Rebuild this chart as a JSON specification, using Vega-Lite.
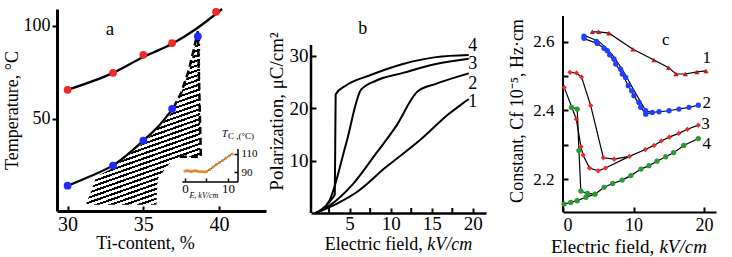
{
"$schema": "https://vega.github.io/schema/vega-lite/v6.json",
"background": "white",
"padding": {"left": 3, "top": 4, "right": 5, "bottom": 5},
"config": {
  "view": {"stroke": null},
  "axis": {"domainColor": "black", "tickColor": "black", "labelColor": "black", "titleColor": "black", "labelFont": "Liberation Serif", "titleFont": "Liberation Serif", "titleFontWeight": "normal", "grid": false, "labelOverlap": false},
  "text": {"font": "Liberation Serif", "color": "black"}
},
"datasets": {
  "a_hatch": [
    {"x": 31.25, "y": 4.6, "y2": 3.9},
    {"x": 31.9, "y": 19.0, "y2": 3.9},
    {"x": 32.96, "y": 23.5, "y2": 3.9},
    {"x": 35.0, "y": 37.0, "y2": 3.9},
    {"x": 35.86, "y": 44.0, "y2": 3.9},
    {"x": 35.95, "y": 44.8, "y2": 17.8},
    {"x": 36.71, "y": 51.5, "y2": 25.9},
    {"x": 37.37, "y": 61.0, "y2": 29.6},
    {"x": 38.03, "y": 76.0, "y2": 29.6},
    {"x": 38.55, "y": 94.0, "y2": 29.6},
    {"x": 38.75, "y": 95.7, "y2": 29.6}
  ],
  "a_red_curve": [
    {"x": 30, "y": 65.6}, {"x": 33, "y": 74.7}, {"x": 35, "y": 83.2}, {"x": 36.9, "y": 90.3}, {"x": 38.5, "y": 98.4}, {"x": 40.2, "y": 109}
  ],
  "a_blue_curve": [
    {"x": 30, "y": 14.1}, {"x": 31.5, "y": 19.2}, {"x": 33, "y": 25}, {"x": 35, "y": 38.3}, {"x": 36, "y": 46}, {"x": 37.0, "y": 56}
  ],
  "a_dash": [
    {"x": 37.0, "y": 56, "o": 1}, {"x": 37.5, "y": 64, "o": 2}, {"x": 38.0, "y": 76, "o": 3}, {"x": 38.35, "y": 88, "o": 4}, {"x": 38.6, "y": 97, "o": 5}, {"x": 38.8, "y": 29.6, "o": 6}, {"x": 37.4, "y": 29.6, "o": 7}
  ],
  "a_red_pts": [
    {"x": 30, "y": 65.6}, {"x": 33, "y": 74.7}, {"x": 35, "y": 84.4}, {"x": 36.9, "y": 90.7}, {"x": 39.8, "y": 107.5}
  ],
  "a_blue_pts": [
    {"x": 30, "y": 14.1}, {"x": 33, "y": 24.9}, {"x": 35, "y": 38.3}, {"x": 36.9, "y": 55.4}, {"x": 38.6, "y": 94.3}
  ],
  "a_label": [{"x": 32.8, "y": 98.5, "t": "a"}],
  "ins_pts": [
    {"x": 0, "y": 91}, {"x": 0.5, "y": 91.5}, {"x": 1, "y": 91}, {"x": 1.5, "y": 90.5}, {"x": 2, "y": 91.2}, {"x": 2.5, "y": 91.5}, {"x": 3, "y": 90.8}, {"x": 3.5, "y": 90.3}, {"x": 4, "y": 90.6}, {"x": 4.5, "y": 90}, {"x": 5, "y": 90.5}, {"x": 5.8, "y": 93}, {"x": 6.5, "y": 95.5}, {"x": 7.3, "y": 98.5}, {"x": 8, "y": 100.5}, {"x": 8.8, "y": 103}, {"x": 9.5, "y": 105.5}, {"x": 10.3, "y": 108}, {"x": 11, "y": 110}
  ],
  "ins_line": [{"x": 0, "y": 91}, {"x": 5, "y": 90.3}, {"x": 11, "y": 110.5}],
  "ins_frame": [{"x": -0.6, "x2": 12.33, "y": 78.9, "y2": 78.9}, {"x": 12.33, "x2": 12.33, "y": 78.9, "y2": 115.6}],
  "ins_t1": [{"x": 8.6, "y": 132, "t": "T"}],
  "ins_t2": [{"x": 10.0, "y": 130.5, "t": "C ,(°C)"}],
  "ins_t3": [{"x": 4.4, "y": 63.3, "t": "E, kV/cm"}],
  "b_axis": [{"x": 0.3, "y": 0, "y2": 32}],
  "b_ticks": [{"x": 2.5, "y": 0, "y2": 0.95}, {"x": 7.5, "y": 0, "y2": 0.95}, {"x": 12.5, "y": 0, "y2": 0.95}, {"x": 17.5, "y": 0, "y2": 0.95}],
  "b_curves": [
    {"x": 0.9, "y": 0, "c": "4"}, {"x": 2.0, "y": 1.2, "c": "4"}, {"x": 2.9, "y": 2.8, "c": "4"}, {"x": 3.2, "y": 3.6, "c": "4"}, {"x": 3.3, "y": 22.6, "c": "4"}, {"x": 4.56, "y": 24.3, "c": "4"}, {"x": 7.4, "y": 26.2, "c": "4"}, {"x": 11.5, "y": 28.4, "c": "4"}, {"x": 15.5, "y": 29.7, "c": "4"}, {"x": 19.5, "y": 30.1, "c": "4"},
    {"x": 0.9, "y": 0, "c": "3"}, {"x": 2.55, "y": 2.4, "c": "3"}, {"x": 4.57, "y": 13.2, "c": "3"}, {"x": 6.4, "y": 23.5, "c": "3"}, {"x": 8.2, "y": 25.2, "c": "3"}, {"x": 11.5, "y": 26.7, "c": "3"}, {"x": 15.5, "y": 28.4, "c": "3"}, {"x": 19.5, "y": 29.4, "c": "3"},
    {"x": 0.9, "y": 0, "c": "2"}, {"x": 2.55, "y": 1.4, "c": "2"}, {"x": 5.4, "y": 5.5, "c": "2"}, {"x": 8.2, "y": 11.3, "c": "2"}, {"x": 10.6, "y": 16.4, "c": "2"}, {"x": 13.3, "y": 23.2, "c": "2"}, {"x": 15.5, "y": 24.6, "c": "2"}, {"x": 19.5, "y": 26.6, "c": "2"},
    {"x": 0.9, "y": 0, "c": "1"}, {"x": 3.35, "y": 1.7, "c": "1"}, {"x": 5.8, "y": 3.9, "c": "1"}, {"x": 9.4, "y": 8.7, "c": "1"}, {"x": 13.5, "y": 13.8, "c": "1"}, {"x": 17.1, "y": 18.9, "c": "1"}, {"x": 18.7, "y": 20.8, "c": "1"}, {"x": 19.5, "y": 21.7, "c": "1"}
  ],
  "b_labels": [{"x": 20.0, "y": 31.9, "t": "4"}, {"x": 20.0, "y": 28.4, "t": "3"}, {"x": 20.0, "y": 24.6, "t": "2"}, {"x": 20.0, "y": 21.1, "t": "1"}, {"x": 6.6, "y": 35.1, "t": "b"}],
  "b_xt1": [{"x": 13.9, "y": -7.05, "t": "Electric field,"}],
  "b_xt2": [{"x": 14.45, "y": -7.05, "t": "kV/cm"}],
  "c_axis": [{"x": 0, "y": 2.104, "y2": 2.675}],
  "c_xt1": [{"x": 12.96, "y": 1.9847, "t": "Electric field,"}],
  "c_xt2": [{"x": 13.67, "y": 1.9847, "t": "kV/cm"}],
  "c_pts": [
    {"x": 4.16, "y": 2.629, "s": "1"}, {"x": 5.06, "y": 2.629, "s": "1"}, {"x": 6.52, "y": 2.625, "s": "1"}, {"x": 9.93, "y": 2.578, "s": "1"}, {"x": 12.91, "y": 2.547, "s": "1"}, {"x": 14.99, "y": 2.524, "s": "1"}, {"x": 16.03, "y": 2.506, "s": "1"}, {"x": 17.35, "y": 2.506, "s": "1"}, {"x": 18.98, "y": 2.512, "s": "1"}, {"x": 20.28, "y": 2.515, "s": "1"},
    {"x": 2.98, "y": 2.616, "s": "2"}, {"x": 2.98, "y": 2.61, "s": "2"}, {"x": 4.72, "y": 2.601, "s": "2"}, {"x": 4.87, "y": 2.595, "s": "2"}, {"x": 5.82, "y": 2.581, "s": "2"}, {"x": 6.28, "y": 2.574, "s": "2"}, {"x": 6.62, "y": 2.562, "s": "2"}, {"x": 7.23, "y": 2.55, "s": "2"}, {"x": 7.48, "y": 2.535, "s": "2"}, {"x": 8.18, "y": 2.52, "s": "2"}, {"x": 8.41, "y": 2.506, "s": "2"}, {"x": 8.89, "y": 2.496, "s": "2"}, {"x": 9.26, "y": 2.472, "s": "2"}, {"x": 9.74, "y": 2.457, "s": "2"}, {"x": 10.07, "y": 2.443, "s": "2"}, {"x": 10.78, "y": 2.423, "s": "2"}, {"x": 11.02, "y": 2.409, "s": "2"}, {"x": 11.73, "y": 2.399, "s": "2"}, {"x": 11.73, "y": 2.389, "s": "2"}, {"x": 12.67, "y": 2.394, "s": "2"}, {"x": 13.62, "y": 2.396, "s": "2"}, {"x": 15.04, "y": 2.399, "s": "2"}, {"x": 16.45, "y": 2.404, "s": "2"}, {"x": 17.87, "y": 2.409, "s": "2"}, {"x": 19.19, "y": 2.415, "s": "2"},
    {"x": 0.99, "y": 2.511, "s": "3"}, {"x": 1.91, "y": 2.509, "s": "3"}, {"x": 2.63, "y": 2.497, "s": "3"}, {"x": 3.93, "y": 2.414, "s": "3"}, {"x": 5.72, "y": 2.262, "s": "3"}, {"x": 7.26, "y": 2.258, "s": "3"}, {"x": 9.42, "y": 2.266, "s": "3"}, {"x": 11.68, "y": 2.286, "s": "3"}, {"x": 12.91, "y": 2.298, "s": "3"}, {"x": 13.94, "y": 2.311, "s": "3"}, {"x": 15.07, "y": 2.322, "s": "3"}, {"x": 16.41, "y": 2.333, "s": "3"}, {"x": 17.64, "y": 2.345, "s": "3"}, {"x": 19.19, "y": 2.357, "s": "3"},
    {"x": 0.17, "y": 2.467, "s": "3"}, {"x": 1.88, "y": 2.375, "s": "3"}, {"x": 2.55, "y": 2.294, "s": "3"}, {"x": 2.84, "y": 2.27, "s": "3"}, {"x": 3.76, "y": 2.232, "s": "3"}, {"x": 5.0, "y": 2.224, "s": "3"}, {"x": 6.03, "y": 2.232, "s": "3"},
    {"x": 1.19, "y": 2.409, "s": "4"}, {"x": 2.02, "y": 2.404, "s": "4"}, {"x": 2.26, "y": 2.283, "s": "4"}, {"x": 2.53, "y": 2.165, "s": "4"}, {"x": 3.46, "y": 2.158, "s": "4"},
    {"x": 0.15, "y": 2.127, "s": "4"}, {"x": 1.09, "y": 2.132, "s": "4"}, {"x": 2.02, "y": 2.137, "s": "4"}, {"x": 3.25, "y": 2.147, "s": "4"}, {"x": 4.54, "y": 2.156, "s": "4"}, {"x": 5.82, "y": 2.176, "s": "4"}, {"x": 7.05, "y": 2.187, "s": "4"}, {"x": 8.39, "y": 2.197, "s": "4"}, {"x": 9.62, "y": 2.21, "s": "4"}, {"x": 11.06, "y": 2.229, "s": "4"}, {"x": 12.19, "y": 2.239, "s": "4"}, {"x": 13.33, "y": 2.252, "s": "4"}, {"x": 14.56, "y": 2.265, "s": "4"}, {"x": 15.69, "y": 2.277, "s": "4"}, {"x": 17.13, "y": 2.298, "s": "4"}, {"x": 19.19, "y": 2.318, "s": "4"}
  ],
  "c_lines": [
    {"x": 4.16, "y": 2.629, "l": "1"}, {"x": 5.06, "y": 2.629, "l": "1"}, {"x": 6.52, "y": 2.625, "l": "1"}, {"x": 9.93, "y": 2.578, "l": "1"}, {"x": 12.91, "y": 2.547, "l": "1"}, {"x": 14.99, "y": 2.524, "l": "1"}, {"x": 16.03, "y": 2.506, "l": "1"}, {"x": 17.35, "y": 2.506, "l": "1"}, {"x": 18.98, "y": 2.512, "l": "1"}, {"x": 20.28, "y": 2.515, "l": "1"},
    {"x": 3.0, "y": 2.619, "l": "2a"}, {"x": 5.1, "y": 2.601, "l": "2a"}, {"x": 6.3, "y": 2.578, "l": "2a"}, {"x": 7.0, "y": 2.562, "l": "2a"}, {"x": 7.9, "y": 2.535, "l": "2a"}, {"x": 8.8, "y": 2.506, "l": "2a"}, {"x": 9.7, "y": 2.472, "l": "2a"}, {"x": 10.5, "y": 2.443, "l": "2a"}, {"x": 11.45, "y": 2.409, "l": "2a"}, {"x": 12.0, "y": 2.397, "l": "2a"}, {"x": 12.7, "y": 2.394, "l": "2a"},
    {"x": 2.98, "y": 2.609, "l": "2b"}, {"x": 4.87, "y": 2.595, "l": "2b"}, {"x": 5.82, "y": 2.581, "l": "2b"}, {"x": 6.62, "y": 2.562, "l": "2b"}, {"x": 7.48, "y": 2.535, "l": "2b"}, {"x": 8.41, "y": 2.506, "l": "2b"}, {"x": 9.26, "y": 2.472, "l": "2b"}, {"x": 10.07, "y": 2.443, "l": "2b"}, {"x": 11.02, "y": 2.409, "l": "2b"}, {"x": 11.73, "y": 2.389, "l": "2b"}, {"x": 12.67, "y": 2.394, "l": "2b"}, {"x": 13.62, "y": 2.396, "l": "2b"}, {"x": 15.04, "y": 2.399, "l": "2b"}, {"x": 16.45, "y": 2.404, "l": "2b"}, {"x": 17.87, "y": 2.409, "l": "2b"}, {"x": 19.19, "y": 2.415, "l": "2b"},
    {"x": 0.99, "y": 2.511, "l": "3B"}, {"x": 1.91, "y": 2.509, "l": "3B"}, {"x": 2.63, "y": 2.497, "l": "3B"}, {"x": 3.93, "y": 2.414, "l": "3B"}, {"x": 5.72, "y": 2.262, "l": "3B"}, {"x": 7.26, "y": 2.258, "l": "3B"}, {"x": 9.42, "y": 2.266, "l": "3B"}, {"x": 11.68, "y": 2.286, "l": "3B"}, {"x": 12.91, "y": 2.298, "l": "3B"}, {"x": 13.94, "y": 2.311, "l": "3B"}, {"x": 15.07, "y": 2.322, "l": "3B"}, {"x": 16.41, "y": 2.333, "l": "3B"}, {"x": 17.64, "y": 2.345, "l": "3B"}, {"x": 19.19, "y": 2.357, "l": "3B"},
    {"x": 0.17, "y": 2.467, "l": "3A"}, {"x": 1.88, "y": 2.375, "l": "3A"}, {"x": 2.55, "y": 2.294, "l": "3A"}, {"x": 2.84, "y": 2.27, "l": "3A"}, {"x": 3.76, "y": 2.232, "l": "3A"}, {"x": 5.0, "y": 2.224, "l": "3A"}, {"x": 6.03, "y": 2.232, "l": "3A"}, {"x": 9.42, "y": 2.266, "l": "3A"},
    {"x": 1.19, "y": 2.409, "l": "4U"}, {"x": 2.02, "y": 2.404, "l": "4U"}, {"x": 2.26, "y": 2.283, "l": "4U"}, {"x": 2.53, "y": 2.165, "l": "4U"}, {"x": 3.46, "y": 2.158, "l": "4U"}, {"x": 4.54, "y": 2.156, "l": "4U"},
    {"x": 0.15, "y": 2.127, "l": "4L"}, {"x": 1.09, "y": 2.132, "l": "4L"}, {"x": 2.02, "y": 2.137, "l": "4L"}, {"x": 3.25, "y": 2.147, "l": "4L"}, {"x": 4.54, "y": 2.156, "l": "4L"}, {"x": 5.82, "y": 2.176, "l": "4L"}, {"x": 7.05, "y": 2.187, "l": "4L"}, {"x": 8.39, "y": 2.197, "l": "4L"}, {"x": 9.62, "y": 2.21, "l": "4L"}, {"x": 11.06, "y": 2.229, "l": "4L"}, {"x": 12.19, "y": 2.239, "l": "4L"}, {"x": 13.33, "y": 2.252, "l": "4L"}, {"x": 14.56, "y": 2.265, "l": "4L"}, {"x": 15.69, "y": 2.277, "l": "4L"}, {"x": 17.13, "y": 2.298, "l": "4L"}, {"x": 19.19, "y": 2.318, "l": "4L"}
  ],
  "c_labels": [{"x": 20.4, "y": 2.553, "t": "1"}, {"x": 20.4, "y": 2.422, "t": "2"}, {"x": 20.2, "y": 2.36, "t": "3"}, {"x": 20.4, "y": 2.302, "t": "4"}, {"x": 14.57, "y": 2.606, "t": "c"}]
},
"spacing": 1,
"hconcat": [
  {
    "width": 209, "height": 202,
    "layer": [
      {"layer": [
        {"data": {"name": "a_hatch"},
         "mark": {"type": "area", "color": {"gradient": "linear", "x1": 0, "y1": 0, "x2": 0.256, "y2": 1.1, "stops": [
{"offset":0.175,"color":"#000"},{"offset":0.186,"color":"#000"},{"offset":0.186,"color":"#fff"},{"offset":0.2,"color":"#fff"},
{"offset":0.2,"color":"#000"},{"offset":0.211,"color":"#000"},{"offset":0.211,"color":"#fff"},{"offset":0.225,"color":"#fff"},
{"offset":0.225,"color":"#000"},{"offset":0.236,"color":"#000"},{"offset":0.236,"color":"#fff"},{"offset":0.25,"color":"#fff"},
{"offset":0.25,"color":"#000"},{"offset":0.261,"color":"#000"},{"offset":0.261,"color":"#fff"},{"offset":0.275,"color":"#fff"},
{"offset":0.275,"color":"#000"},{"offset":0.286,"color":"#000"},{"offset":0.286,"color":"#fff"},{"offset":0.3,"color":"#fff"},
{"offset":0.3,"color":"#000"},{"offset":0.311,"color":"#000"},{"offset":0.311,"color":"#fff"},{"offset":0.325,"color":"#fff"},
{"offset":0.325,"color":"#000"},{"offset":0.336,"color":"#000"},{"offset":0.336,"color":"#fff"},{"offset":0.35,"color":"#fff"},
{"offset":0.35,"color":"#000"},{"offset":0.361,"color":"#000"},{"offset":0.361,"color":"#fff"},{"offset":0.375,"color":"#fff"},
{"offset":0.375,"color":"#000"},{"offset":0.386,"color":"#000"},{"offset":0.386,"color":"#fff"},{"offset":0.4,"color":"#fff"},
{"offset":0.4,"color":"#000"},{"offset":0.411,"color":"#000"},{"offset":0.411,"color":"#fff"},{"offset":0.425,"color":"#fff"},
{"offset":0.425,"color":"#000"},{"offset":0.436,"color":"#000"},{"offset":0.436,"color":"#fff"},{"offset":0.45,"color":"#fff"},
{"offset":0.45,"color":"#000"},{"offset":0.461,"color":"#000"},{"offset":0.461,"color":"#fff"},{"offset":0.475,"color":"#fff"},
{"offset":0.475,"color":"#000"},{"offset":0.486,"color":"#000"},{"offset":0.486,"color":"#fff"},{"offset":0.5,"color":"#fff"},
{"offset":0.5,"color":"#000"},{"offset":0.511,"color":"#000"},{"offset":0.511,"color":"#fff"},{"offset":0.525,"color":"#fff"},
{"offset":0.525,"color":"#000"},{"offset":0.536,"color":"#000"},{"offset":0.536,"color":"#fff"},{"offset":0.55,"color":"#fff"},
{"offset":0.55,"color":"#000"},{"offset":0.561,"color":"#000"},{"offset":0.561,"color":"#fff"},{"offset":0.575,"color":"#fff"},
{"offset":0.575,"color":"#000"},{"offset":0.586,"color":"#000"},{"offset":0.586,"color":"#fff"},{"offset":0.6,"color":"#fff"},
{"offset":0.6,"color":"#000"},{"offset":0.611,"color":"#000"},{"offset":0.611,"color":"#fff"},{"offset":0.625,"color":"#fff"},
{"offset":0.625,"color":"#000"},{"offset":0.636,"color":"#000"},{"offset":0.636,"color":"#fff"},{"offset":0.65,"color":"#fff"},
{"offset":0.65,"color":"#000"},{"offset":0.661,"color":"#000"},{"offset":0.661,"color":"#fff"},{"offset":0.675,"color":"#fff"},
{"offset":0.675,"color":"#000"},{"offset":0.686,"color":"#000"},{"offset":0.686,"color":"#fff"},{"offset":0.7,"color":"#fff"},
{"offset":0.7,"color":"#000"},{"offset":0.711,"color":"#000"},{"offset":0.711,"color":"#fff"},{"offset":0.725,"color":"#fff"},
{"offset":0.725,"color":"#000"},{"offset":0.736,"color":"#000"},{"offset":0.736,"color":"#fff"},{"offset":0.75,"color":"#fff"},
{"offset":0.75,"color":"#000"},{"offset":0.761,"color":"#000"},{"offset":0.761,"color":"#fff"},{"offset":0.775,"color":"#fff"},
{"offset":0.775,"color":"#000"},{"offset":0.786,"color":"#000"},{"offset":0.786,"color":"#fff"},{"offset":0.8,"color":"#fff"},
{"offset":0.8,"color":"#000"},{"offset":0.811,"color":"#000"},{"offset":0.811,"color":"#fff"},{"offset":0.825,"color":"#fff"},
{"offset":0.825,"color":"#000"},{"offset":0.836,"color":"#000"},{"offset":0.836,"color":"#fff"},{"offset":0.85,"color":"#fff"},
{"offset":0.85,"color":"#000"},{"offset":0.861,"color":"#000"},{"offset":0.861,"color":"#fff"},{"offset":0.875,"color":"#fff"},
{"offset":0.875,"color":"#000"},{"offset":0.886,"color":"#000"},{"offset":0.886,"color":"#fff"},{"offset":0.9,"color":"#fff"},
{"offset":0.9,"color":"#000"},{"offset":0.911,"color":"#000"},{"offset":0.911,"color":"#fff"},{"offset":0.925,"color":"#fff"},
{"offset":0.925,"color":"#000"},{"offset":0.936,"color":"#000"},{"offset":0.936,"color":"#fff"},{"offset":0.95,"color":"#fff"},
{"offset":0.95,"color":"#000"},{"offset":0.961,"color":"#000"},{"offset":0.961,"color":"#fff"},{"offset":0.975,"color":"#fff"},
{"offset":0.975,"color":"#000"},{"offset":0.986,"color":"#000"},{"offset":0.986,"color":"#fff"},{"offset":1,"color":"#fff"}
         ]}},
         "encoding": {
           "x": {"field": "x", "type": "quantitative", "scale": {"domain": [29.3, 43.1], "nice": false, "zero": false},
                 "axis": {"values": [30, 35, 40], "title": "Ti-content, %", "titleFontSize": 18, "labelFontSize": 20, "tickSize": -5, "tickWidth": 2, "domainWidth": 3, "labelPadding": 8.5, "titlePadding": 0, "titleX": 88, "labelOverlap": false}},
           "y": {"field": "y", "type": "quantitative", "scale": {"domain": [0.5, 109], "nice": false, "zero": false},
                 "axis": {"values": [50, 100], "title": "Temperature, °C", "titleFontSize": 18, "labelFontSize": 18, "tickSize": 5, "tickWidth": 2, "domainWidth": 3, "labelPadding": 2, "titlePadding": 2, "labelOverlap": false}},
           "y2": {"field": "y2"}
         }},
        {"data": {"name": "a_red_curve"}, "mark": {"type": "line", "color": "black", "strokeWidth": 2.3, "interpolate": "monotone"},
         "encoding": {"x": {"field": "x", "type": "quantitative"}, "y": {"field": "y", "type": "quantitative"}}},
        {"data": {"name": "a_blue_curve"}, "mark": {"type": "line", "color": "black", "strokeWidth": 2.3, "interpolate": "monotone"},
         "encoding": {"x": {"field": "x", "type": "quantitative"}, "y": {"field": "y", "type": "quantitative"}}},
        {"data": {"name": "a_dash"}, "mark": {"type": "line", "color": "black", "strokeWidth": 2.5, "strokeDash": [7, 4]},
         "encoding": {"x": {"field": "x", "type": "quantitative"}, "y": {"field": "y", "type": "quantitative"}, "order": {"field": "o", "type": "quantitative"}}},
        {"data": {"name": "a_red_pts"}, "mark": {"type": "circle", "color": "#f02828", "opacity": 1, "size": 60},
         "encoding": {"x": {"field": "x", "type": "quantitative"}, "y": {"field": "y", "type": "quantitative"}}},
        {"data": {"name": "a_blue_pts"}, "mark": {"type": "circle", "color": "#1f2aff", "opacity": 1, "size": 60},
         "encoding": {"x": {"field": "x", "type": "quantitative"}, "y": {"field": "y", "type": "quantitative"}}},
        {"data": {"name": "a_label"}, "mark": {"type": "text", "fontSize": 19, "baseline": "middle"},
         "encoding": {"x": {"field": "x", "type": "quantitative"}, "y": {"field": "y", "type": "quantitative"}, "text": {"field": "t"}}}
      ]},
      {"layer": [
        {"data": {"name": "ins_frame"}, "mark": {"type": "rule", "color": "black", "strokeWidth": 1.5},
         "encoding": {
           "x": {"field": "x", "type": "quantitative", "scale": {"domain": [-29.77, 18.84], "nice": false, "zero": false},
                 "axis": {"orient": "bottom", "offset": -29, "values": [0, 5, 10], "labelExpr": "datum.value == 5 ? '' : datum.label", "domain": false, "tickSize": -4, "tickWidth": 1.5, "labelFontSize": 13, "labelPadding": 4, "title": null, "labelOverlap": false}},
           "y": {"field": "y", "type": "quantitative", "scale": {"domain": [46.67, 271.1], "nice": false, "zero": false},
                 "axis": {"orient": "right", "offset": -28, "values": [90, 110], "domain": false, "tickSize": -4, "tickWidth": 1.5, "labelFontSize": 11, "labelPadding": 7, "title": null, "labelOverlap": false}},
           "x2": {"field": "x2"}, "y2": {"field": "y2"}
         }},
        {"data": {"name": "ins_line"}, "mark": {"type": "line", "color": "black", "strokeWidth": 1},
         "encoding": {"x": {"field": "x", "type": "quantitative"}, "y": {"field": "y", "type": "quantitative"}}},
        {"data": {"name": "ins_pts"}, "mark": {"type": "circle", "color": "#e58a2e", "opacity": 0.9, "size": 10},
         "encoding": {"x": {"field": "x", "type": "quantitative"}, "y": {"field": "y", "type": "quantitative"}}},
        {"data": {"name": "ins_t1"}, "mark": {"type": "text", "fontSize": 10, "fontStyle": "italic", "align": "left", "baseline": "middle"},
         "encoding": {"x": {"field": "x", "type": "quantitative"}, "y": {"field": "y", "type": "quantitative"}, "text": {"field": "t"}}},
        {"data": {"name": "ins_t2"}, "mark": {"type": "text", "fontSize": 9, "align": "left", "baseline": "middle"},
         "encoding": {"x": {"field": "x", "type": "quantitative"}, "y": {"field": "y", "type": "quantitative"}, "text": {"field": "t"}}},
        {"data": {"name": "ins_t3"}, "mark": {"type": "text", "fontSize": 8, "fontStyle": "italic", "baseline": "middle"},
         "encoding": {"x": {"field": "x", "type": "quantitative"}, "y": {"field": "y", "type": "quantitative"}, "text": {"field": "t"}}}
      ]}
    ],
    "resolve": {"scale": {"x": "independent", "y": "independent"}, "axis": {"x": "independent", "y": "independent"}}
  },
  {
    "spacing": 22,
    "hconcat": [
      {
        "width": 175, "height": 204,
        "layer": [
          {"data": {"name": "b_curves"}, "mark": {"type": "line", "color": "black", "strokeWidth": 2, "interpolate": "monotone"},
           "encoding": {
             "x": {"field": "x", "type": "quantitative", "scale": {"domain": [0.3, 21.6], "nice": false, "zero": false},
                   "axis": {"values": [5, 10, 15, 20], "format": "d", "title": null, "labelFontSize": 19, "tickSize": -5, "tickWidth": 2, "domainWidth": 2.5, "labelPadding": 6, "labelOverlap": false}},
             "y": {"field": "y", "type": "quantitative", "scale": {"domain": [0, 38.87], "nice": false, "zero": false},
                   "axis": {"values": [10, 20, 30], "domain": false, "title": "Polarization, μC/cm²", "titleFontSize": 19, "labelFontSize": 19, "tickSize": -5, "tickWidth": 2, "labelPadding": 8, "titlePadding": 3, "labelOverlap": false}},
             "detail": {"field": "c"}
           }},
          {"data": {"name": "b_axis"}, "mark": {"type": "rule", "color": "black", "strokeWidth": 2.5},
           "encoding": {"x": {"field": "x", "type": "quantitative"}, "y": {"field": "y", "type": "quantitative"}, "y2": {"field": "y2"}}},
          {"data": {"name": "b_ticks"}, "mark": {"type": "rule", "color": "black", "strokeWidth": 2},
           "encoding": {"x": {"field": "x", "type": "quantitative"}, "y": {"field": "y", "type": "quantitative"}, "y2": {"field": "y2"}}},
          {"data": {"name": "b_labels"}, "mark": {"type": "text", "fontSize": 18, "baseline": "middle"},
           "encoding": {"x": {"field": "x", "type": "quantitative"}, "y": {"field": "y", "type": "quantitative"}, "text": {"field": "t"}}},
          {"data": {"name": "b_xt1"}, "mark": {"type": "text", "fontSize": 18, "align": "right", "baseline": "alphabetic"},
           "encoding": {"x": {"field": "x", "type": "quantitative"}, "y": {"field": "y", "type": "quantitative"}, "text": {"field": "t"}}},
          {"data": {"name": "b_xt2"}, "mark": {"type": "text", "fontSize": 18, "fontStyle": "italic", "align": "left", "baseline": "alphabetic"},
           "encoding": {"x": {"field": "x", "type": "quantitative"}, "y": {"field": "y", "type": "quantitative"}, "text": {"field": "t"}}}
        ]
      },
      {
        "width": 153, "height": 203,
        "layer": [
          {"data": {"name": "c_lines"}, "mark": {"type": "line", "color": "black", "strokeWidth": 1.2},
           "encoding": {
             "x": {"field": "x", "type": "quantitative", "scale": {"domain": [0, 21.7], "nice": false, "zero": false},
                   "axis": {"values": [0, 5, 10, 15, 20], "labelExpr": "datum.value % 10 == 0 ? datum.label : ''", "title": null, "labelFontSize": 18, "tickSize": -5, "tickWidth": 2, "domainWidth": 2, "labelPadding": 9, "labelOverlap": false}},
             "y": {"field": "y", "type": "quantitative", "scale": {"domain": [2.104, 2.6954], "nice": false, "zero": false},
                   "axis": {"values": [2.2, 2.3, 2.4, 2.5, 2.6], "domain": false, "labelExpr": "round(datum.value * 10) % 2 == 0 ? datum.label : ''", "title": "Constant,  Cf 10⁻⁵,  Hz·cm", "titleFontSize": 18, "labelFontSize": 17, "tickSize": -5, "tickWidth": 2, "labelPadding": 14, "titlePadding": 6, "labelOverlap": false}},
             "detail": {"field": "l"}
           }},
          {"data": {"name": "c_axis"}, "mark": {"type": "rule", "color": "black", "strokeWidth": 2},
           "encoding": {"x": {"field": "x", "type": "quantitative"}, "y": {"field": "y", "type": "quantitative"}, "y2": {"field": "y2"}}},
          {"data": {"name": "c_pts"}, "mark": {"type": "point", "filled": true, "opacity": 1},
           "encoding": {
             "x": {"field": "x", "type": "quantitative"},
             "y": {"field": "y", "type": "quantitative"},
             "shape": {"field": "s", "type": "nominal", "scale": {"domain": ["1", "2", "3", "4"], "range": ["triangle-up", "circle", "diamond", "circle"]}, "legend": null},
             "color": {"field": "s", "type": "nominal", "scale": {"domain": ["1", "2", "3", "4"], "range": ["#c4161c", "#2040ff", "#ee2a24", "#2a9a34"]}, "legend": null},
             "size": {"value": 28}
           }},
          {"data": {"name": "c_labels"}, "mark": {"type": "text", "fontSize": 17, "baseline": "middle"},
           "encoding": {"x": {"field": "x", "type": "quantitative"}, "y": {"field": "y", "type": "quantitative"}, "text": {"field": "t"}}},
          {"data": {"name": "c_xt1"}, "mark": {"type": "text", "fontSize": 19, "align": "right", "baseline": "alphabetic"},
           "encoding": {"x": {"field": "x", "type": "quantitative"}, "y": {"field": "y", "type": "quantitative"}, "text": {"field": "t"}}},
          {"data": {"name": "c_xt2"}, "mark": {"type": "text", "fontSize": 19, "fontStyle": "italic", "align": "left", "baseline": "alphabetic"},
           "encoding": {"x": {"field": "x", "type": "quantitative"}, "y": {"field": "y", "type": "quantitative"}, "text": {"field": "t"}}}
        ]
      }
    ]
  }
]
}
